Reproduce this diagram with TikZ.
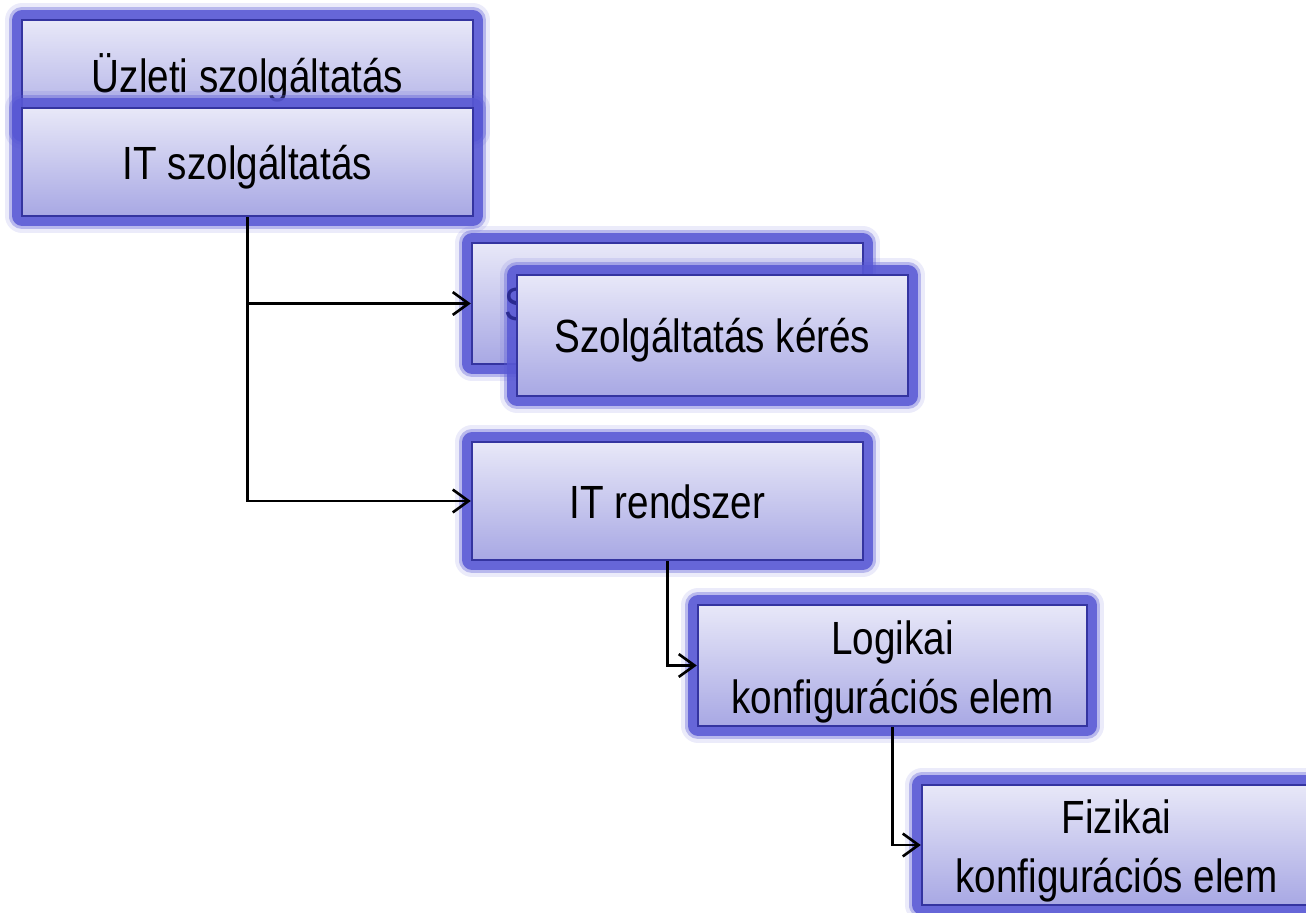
\documentclass[tikz,border=0pt]{standalone}
\usepackage{fontspec}
\setmainfont{Liberation Sans}[FakeStretch=0.83]
\usepackage{tikz}
\usetikzlibrary{arrows.meta}
\definecolor{boxtop}{HTML}{E8E8F8}
\definecolor{boxbot}{HTML}{A8A8E4}
\definecolor{boxline}{HTML}{3434A0}
\definecolor{glowblue}{HTML}{5858D4}
\definecolor{hiddentext}{HTML}{2A2A90}
\newcommand{\firstline}{\rule{0pt}{0.92cm}}
\tikzset{
  cmdbbox/.style={draw=boxline, line width=1.4pt, top color=boxtop, bottom color=boxbot,
    inner sep=0pt, align=center, font=\fontsize{26.5}{33.4}\selectfont,
    preaction={draw=glowblue, line width=19pt, opacity=0.12, line join=round},
    preaction={draw=glowblue, line width=15pt, opacity=0.35, line join=round},
    preaction={draw=glowblue, line width=11pt, opacity=0.85, line join=round}},
  oneline/.style={text height=0.68cm, text depth=0pt},
  conn/.style={line width=1.5pt, >={Straight Barb[length=9pt,width=13pt,line width=1.5pt]}}
}
\begin{document}
\begin{tikzpicture}[x=0.02cm, y=-0.02cm]
    \useasboundingbox (0,0) rectangle (1306,913);
    \node[cmdbbox, oneline, minimum width=9.02cm, minimum height=2.24cm] at (247.5,76) (uzleti) {Üzleti szolgáltatás};
    \node[cmdbbox, oneline, minimum width=9.02cm, minimum height=2.16cm] at (247.5,162) (itszolg) {IT szolgáltatás};
    \node[cmdbbox, minimum width=7.82cm, minimum height=2.42cm] at (667.5,303.5) (hatter) {};
    \node[cmdbbox, oneline, minimum width=7.82cm, minimum height=2.42cm] at (712.5,335.5) (keres) {Szolgáltatás kérés};
    \begin{scope}
      \clip (hatter.north west) rectangle (keres.south west);
      \node[anchor=base west, inner sep=0pt, text=hiddentext, font=\fontsize{26.5}{33.4}\selectfont] at (504,320) (hatters) {S};
    \end{scope}
    \node[cmdbbox, oneline, minimum width=7.82cm, minimum height=2.36cm] at (667.5,501) (rendszer) {IT rendszer};
    \node[cmdbbox, minimum width=7.78cm, minimum height=2.42cm] at (892.5,665.5) (logikai) {\firstline Logikai\\konfigurációs elem};
    \node[cmdbbox, minimum width=7.78cm, minimum height=2.40cm] at (1116.5,845) (fizikai) {\firstline Fizikai\\konfigurációs elem};
    \draw[conn, ->] (itszolg.south) |- (hatter.west);
    \draw[conn, ->] (itszolg.south) |- (rendszer.west);
    \draw[conn, ->] (rendszer.south) |- (logikai.west);
    \draw[conn, ->] (logikai.south) |- (fizikai.west);
\end{tikzpicture}
\end{document}
